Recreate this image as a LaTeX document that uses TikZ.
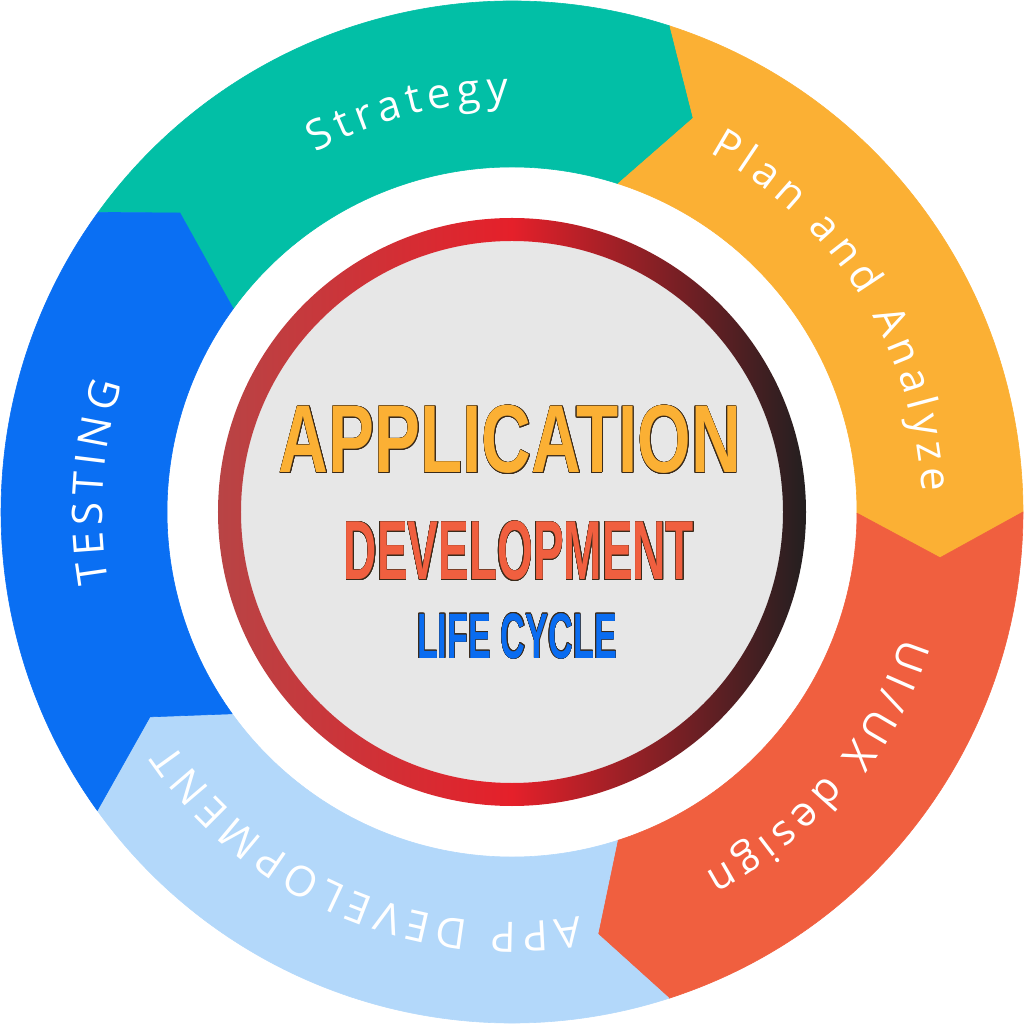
\documentclass[tikz,border=0pt]{standalone}
\usepackage{fontspec}
\usepackage{contour}
\usetikzlibrary{decorations.text}
\setmainfont{Liberation Sans}
\newfontfamily\ringfont{Open Sans}
\newcommand\rfont{\ringfont\fontsize{42}{50}\selectfont}
\definecolor{cTeal}{HTML}{02BFA6}
\definecolor{cOrange}{HTML}{FBB034}
\definecolor{cRed}{HTML}{F05F3F}
\definecolor{cLight}{HTML}{B3D8FA}
\definecolor{cBlue}{HTML}{0A6FF3}
\definecolor{cGrey}{HTML}{E7E7E7}
\definecolor{ringL}{HTML}{B84445}
\definecolor{ringM}{HTML}{E5202A}
\definecolor{ringR}{HTML}{231F20}
\definecolor{tOut}{HTML}{3A2A1A}
\definecolor{tBlue}{HTML}{0A6CF0}
\contourlength{0.9pt}
\contournumber{16}
\tikzset{
  segfill/.style={fill=#1, draw=#1, line width=0.6pt, line join=round},
  ringtext/.style={decorate, decoration={text effects along path, text={#1}, text align=center,
     text effects/.cd, text along path, characters={text=white, font=\rfont, inner sep=0pt, anchor=base},
     character widths={font=\rfont, inner sep=0pt, inner xsep=2.875pt}}},
  title/.style={anchor=base, inner sep=0pt}
}
\begin{document}
\begin{tikzpicture}
\useasboundingbox (-512pt,-512pt) rectangle (512pt,512pt);
% boundary tips
\coordinate (b1t) at (65.3:433.6pt);
\coordinate (b2t) at (-6.1:430.5pt);
\coordinate (b3t) at (-78.5:430.7pt);
\coordinate (b4t) at (209.5:416pt);
\coordinate (b5t) at (138:446.8pt);
% segments
\path[segfill=cTeal] (144.1:511pt) arc[start angle=144.1, end angle=72, radius=511pt] -- (b1t) -- (72.1:345pt) arc[start angle=72.1, end angle=143.9, radius=345pt] -- (b5t) -- cycle;
\path[segfill=cOrange] (72:511pt) arc[start angle=72, end angle=0, radius=511pt] -- (b2t) -- (-0.2:345pt) arc[start angle=-0.2, end angle=72.1, radius=345pt] -- (b1t) -- cycle;
\path[segfill=cRed] (0:511pt) arc[start angle=0, end angle=-72.1, radius=511pt] -- (b3t) -- (-72.2:345pt) arc[start angle=-72.2, end angle=-0.2, radius=345pt] -- (b2t) -- cycle;
\path[segfill=cLight] (-72.1:511pt) arc[start angle=-72.1, end angle=-144.25, radius=511pt] -- (b4t) -- (-144.2:345pt) arc[start angle=-144.2, end angle=-72.2, radius=345pt] -- (b3t) -- cycle;
\path[segfill=cBlue] (215.75:511pt) arc[start angle=215.75, end angle=144.1, radius=511pt] -- (b5t) -- (143.9:345pt) arc[start angle=143.9, end angle=215.8, radius=345pt] -- (b4t) -- cycle;
% ring labels
\path[ringtext={Strategy}] (144.6:410pt) arc[start angle=144.6, end angle=64.6, radius=410pt];
\path[ringtext={Plan and Analyze}] (77:410pt) arc[start angle=77, end angle=-13, radius=410pt];
\path[ringtext={UI/UX design}] (0.2:410pt) arc[start angle=0.2, end angle=-79.8, radius=410pt];
\path[ringtext={APP DEVELOPMENT}] (-68.2:410pt) arc[start angle=-68.2, end angle=-158.2, radius=410pt];
\path[ringtext={TESTING}] (215.9:410pt) arc[start angle=215.9, end angle=135.9, radius=410pt];
% centre
\fill[cGrey] (0,0) circle (272pt);
\shade[even odd rule, left color=ringL, right color=ringR, middle color=ringM] (0,0) circle (294pt) (0,0) circle (271pt);
\node[title, text=cOrange] (app) at (-2pt,39pt) {\scalebox{0.715}[1]{\fontsize{96.4}{100}\selectfont\bfseries\contour{tOut}{APPLICATION}}};
\node[title, text=cRed] (dev) at (7pt,-68pt) {\scalebox{0.549}[1]{\fontsize{83.8}{90}\selectfont\bfseries\contour{tOut}{DEVELOPMENT}}};
\node[title, text=tBlue] (life) at (5pt,-146pt) {\scalebox{0.534}[1]{\fontsize{64.2}{70}\selectfont\bfseries\contour{tOut}{LIFE CYCLE}}};
\end{tikzpicture}
\end{document}
